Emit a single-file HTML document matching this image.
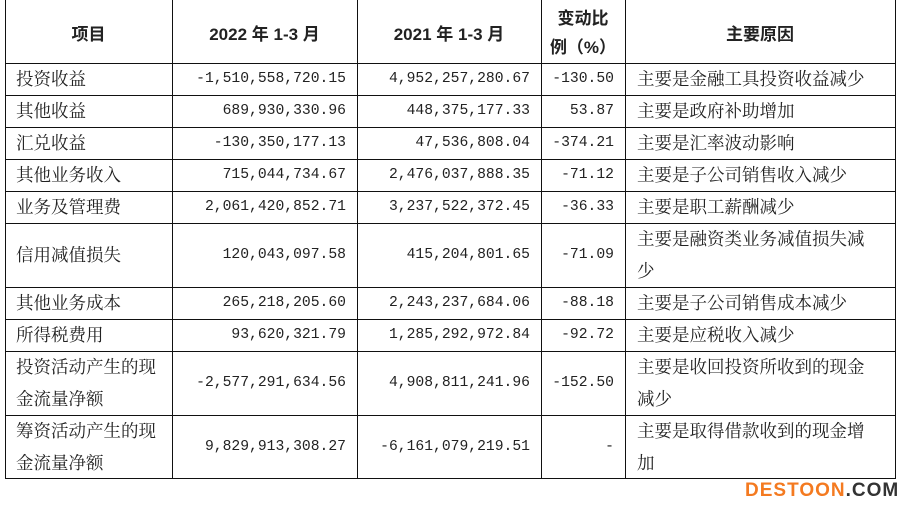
<!DOCTYPE html>
<html><head><meta charset="utf-8"><style>
body{margin:0;width:916px;height:514px;background:#fff;position:relative;overflow:hidden;font-family:"Liberation Serif","Noto Serif CJK SC",serif;color:#222}
.l{position:absolute;background:#111}
.t{position:absolute;font-size:17.5px;white-space:nowrap;line-height:32px}
.n{position:absolute;font-family:"Liberation Mono",monospace;font-size:14.7px;white-space:nowrap;text-align:right;line-height:32px}
.h{position:absolute;font-family:"Liberation Sans","Noto Sans CJK SC",sans-serif;font-weight:bold;font-size:17px;text-align:center;white-space:nowrap}
.wm{position:absolute;left:745px;top:480px;font-family:"Liberation Sans",sans-serif;font-weight:bold;font-size:19px;letter-spacing:1px}
</style></head><body>
<!-- vertical lines -->
<div class="l" style="left:5px;top:0;width:1px;height:479px"></div>
<div class="l" style="left:172px;top:0;width:1px;height:479px"></div>
<div class="l" style="left:357px;top:0;width:1px;height:479px"></div>
<div class="l" style="left:541px;top:0;width:1px;height:479px"></div>
<div class="l" style="left:625px;top:0;width:1px;height:479px"></div>
<div class="l" style="left:895px;top:0;width:1px;height:479px"></div>
<!-- horizontal lines -->
<div class="l" style="left:5px;top:63px;width:891px;height:1px"></div>
<div class="l" style="left:5px;top:95px;width:891px;height:1px"></div>
<div class="l" style="left:5px;top:127px;width:891px;height:1px"></div>
<div class="l" style="left:5px;top:159px;width:891px;height:1px"></div>
<div class="l" style="left:5px;top:191px;width:891px;height:1px"></div>
<div class="l" style="left:5px;top:223px;width:891px;height:1px"></div>
<div class="l" style="left:5px;top:287px;width:891px;height:1px"></div>
<div class="l" style="left:5px;top:319px;width:891px;height:1px"></div>
<div class="l" style="left:5px;top:351px;width:891px;height:1px"></div>
<div class="l" style="left:5px;top:415px;width:891px;height:1px"></div>
<div class="l" style="left:5px;top:478px;width:891px;height:1px"></div>
<!-- header -->
<div class="h" style="left:5px;width:167px;top:20px">项目</div>
<div class="h" style="left:172px;width:185px;top:20px">2022 年 1-3 月</div>
<div class="h" style="left:357px;width:184px;top:20px">2021 年 1-3 月</div>
<div class="h" style="left:541px;width:84px;top:4px;line-height:29px">变动比<br>例（%）</div>
<div class="h" style="left:625px;width:270px;top:20px">主要原因</div>
<!-- col1 -->
<div class="t" style="left:16px;top:63px">投资收益</div>
<div class="t" style="left:16px;top:95px">其他收益</div>
<div class="t" style="left:16px;top:127px">汇兑收益</div>
<div class="t" style="left:16px;top:159px">其他业务收入</div>
<div class="t" style="left:16px;top:191px">业务及管理费</div>
<div class="t" style="left:16px;top:239px">信用减值损失</div>
<div class="t" style="left:16px;top:287px">其他业务成本</div>
<div class="t" style="left:16px;top:319px">所得税费用</div>
<div class="t" style="left:16px;top:351px">投资活动产生的现<br>金流量净额</div>
<div class="t" style="left:16px;top:415px">筹资活动产生的现<br>金流量净额</div>
<!-- col2 -->
<div class="n" style="right:570px;top:63px">-1,510,558,720.15</div>
<div class="n" style="right:570px;top:95px">689,930,330.96</div>
<div class="n" style="right:570px;top:127px">-130,350,177.13</div>
<div class="n" style="right:570px;top:159px">715,044,734.67</div>
<div class="n" style="right:570px;top:191px">2,061,420,852.71</div>
<div class="n" style="right:570px;top:239px">120,043,097.58</div>
<div class="n" style="right:570px;top:287px">265,218,205.60</div>
<div class="n" style="right:570px;top:319px">93,620,321.79</div>
<div class="n" style="right:570px;top:367px">-2,577,291,634.56</div>
<div class="n" style="right:570px;top:431px">9,829,913,308.27</div>
<!-- col3 -->
<div class="n" style="right:386px;top:63px">4,952,257,280.67</div>
<div class="n" style="right:386px;top:95px">448,375,177.33</div>
<div class="n" style="right:386px;top:127px">47,536,808.04</div>
<div class="n" style="right:386px;top:159px">2,476,037,888.35</div>
<div class="n" style="right:386px;top:191px">3,237,522,372.45</div>
<div class="n" style="right:386px;top:239px">415,204,801.65</div>
<div class="n" style="right:386px;top:287px">2,243,237,684.06</div>
<div class="n" style="right:386px;top:319px">1,285,292,972.84</div>
<div class="n" style="right:386px;top:367px">4,908,811,241.96</div>
<div class="n" style="right:386px;top:431px">-6,161,079,219.51</div>
<!-- col4 -->
<div class="n" style="right:302px;top:63px">-130.50</div>
<div class="n" style="right:302px;top:95px">53.87</div>
<div class="n" style="right:302px;top:127px">-374.21</div>
<div class="n" style="right:302px;top:159px">-71.12</div>
<div class="n" style="right:302px;top:191px">-36.33</div>
<div class="n" style="right:302px;top:239px">-71.09</div>
<div class="n" style="right:302px;top:287px">-88.18</div>
<div class="n" style="right:302px;top:319px">-92.72</div>
<div class="n" style="right:302px;top:367px">-152.50</div>
<div class="n" style="right:302px;top:431px">-</div>
<!-- col5 -->
<div class="t" style="left:637px;top:63px">主要是金融工具投资收益减少</div>
<div class="t" style="left:637px;top:95px">主要是政府补助增加</div>
<div class="t" style="left:637px;top:127px">主要是汇率波动影响</div>
<div class="t" style="left:637px;top:159px">主要是子公司销售收入减少</div>
<div class="t" style="left:637px;top:191px">主要是职工薪酬减少</div>
<div class="t" style="left:637px;top:223px">主要是融资类业务减值损失减<br>少</div>
<div class="t" style="left:637px;top:287px">主要是子公司销售成本减少</div>
<div class="t" style="left:637px;top:319px">主要是应税收入减少</div>
<div class="t" style="left:637px;top:351px">主要是收回投资所收到的现金<br>减少</div>
<div class="t" style="left:637px;top:415px">主要是取得借款收到的现金增<br>加</div>
<div class="wm"><span style="color:#f47a20">DESTOON</span><span style="color:#333">.COM</span></div>
</body></html>
